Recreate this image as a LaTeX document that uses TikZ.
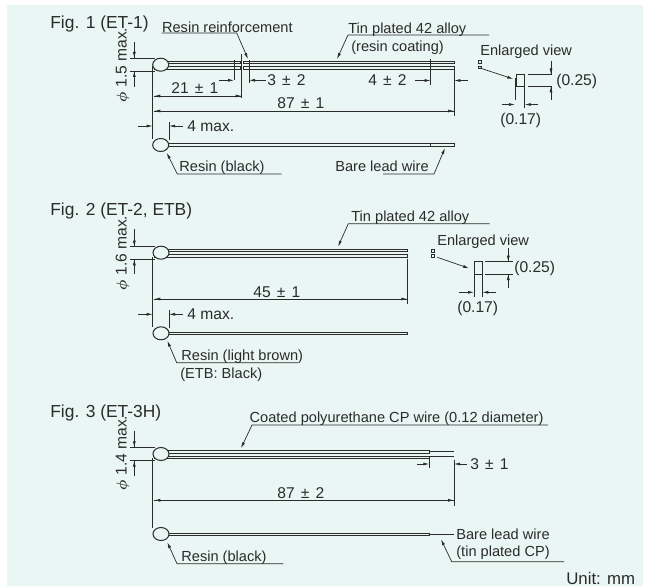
\documentclass[tikz,border=0pt]{standalone}
\usepackage{fontspec}
\setmainfont{Liberation Sans}
\usetikzlibrary{arrows.meta,shapes.geometric}
\definecolor{panel}{HTML}{E9F6F3}
\definecolor{ink}{HTML}{2B2B2B}
\newcommand{\plmi}{\hspace{.12em} ± \hspace{.12em}}

\begin{document}
\begin{tikzpicture}
		[x=1pt,y=-1pt,line width=0.7pt,draw=ink,
		every node/.style={inner sep=0pt,text=ink,font=\fontsize{14.6pt}{16pt}\selectfont,anchor=west,text height=11pt,text depth=0pt},
		figlabel/.style={font=\fontsize{17.4pt}{19pt}\selectfont,text height=12pt},
		unitlabel/.style={font=\fontsize{16.8pt}{18pt}\selectfont},
		dimlabel/.style={font=\fontsize{15.6pt}{17pt}\selectfont},
		phiLabel/.style={font=\fontsize{15.6pt}{17pt}\selectfont,rotate=90,anchor=center},
		bead/.style={ellipse,draw,fill=panel,line width=1pt,minimum width=16pt,minimum height=13pt,text height=,anchor=center},
		wire/.style={draw,fill=panel,line width=0.9pt},
		rule/.style={line width=0.7pt},
		edge/.style={-{Latex[length=6pt,width=3pt]},line width=0.7pt}]
		\useasboundingbox (0,0) rectangle (648,588);
		\fill[panel] (7,5) rectangle (643,586);

		% Fig. 1
		\node[figlabel] (f1) at (50,23) {Fig. 1 (ET-1)};
		\foreach \xa/\xb in {154/240,243/454.3} {
			\draw[wire] (\xa,61) rectangle (\xb,63.5);
			\draw[wire] (\xa,66.5) rectangle (\xb,69);
		}
		\draw[wire] (165,143.5) rectangle (454.3,146);
		\node[bead] (b1) at (160.7,64.7) {};
		\node[bead] (b2) at (160.7,145) {};
		\node[phiLabel] (p1) at (121,65) {{\boldmath$\phi$} 1.5 max.};
		\node (rr) at (161.7,27) {Resin reinforcement};
		\node (tp) at (348,28) {Tin plated 42 alloy};
		\node (rc) at (351,46) {(resin coating)};
		\node (ev) at (480,50) {Enlarged view};
		\node (rb) at (179,166) {Resin (black)};
		\node (bl) at (335,166) {Bare lead wire};
		\node[dimlabel] (d1) at (171,88) {21\plmi 1};
		\node[dimlabel] (d2) at (277,103) {87\plmi 1};
		\node[dimlabel] (d3) at (267,80) {3\plmi 2};
		\node[dimlabel] (d4) at (368,80) {4\plmi 2};
		\node[dimlabel] (d5) at (187,126) {4 max.};
		\node[dimlabel] (d6) at (556,80) {(0.25)};
		\node[dimlabel] (d7) at (500,119) {(0.17)};
		\draw[line width=0.8pt] (516,74.3) rectangle (524.7,86.3);
		\foreach \y in {62,67.5}
			\draw[line width=0.6pt] (478.5,\y-1.3) rectangle (481,\y+1.3);

		% Fig. 2
		\node[figlabel] (f2) at (50,210) {Fig. 2 (ET-2, ETB)};
		\draw[wire] (154,249.3) rectangle (407.3,251.7);
		\draw[wire] (154,254.5) rectangle (407.3,257.5);
		\draw[wire] (165,332) rectangle (407.3,334.5);
		\node[bead] (b3) at (161,252.7) {};
		\node[bead] (b4) at (161,333.3) {};
		\node[phiLabel] (p2) at (121,253) {{\boldmath$\phi$} 1.6 max.};
		\node (tq) at (351,216) {Tin plated 42 alloy};
		\node (ew) at (437,240) {Enlarged view};
		\node (rl) at (181,355) {Resin (light brown)};
		\node (eb) at (180,373) {(ETB: Black)};
		\node[dimlabel] (d8) at (253,292) {45\plmi 1};
		\node[dimlabel] (d9) at (187,314.3) {4 max.};
		\node[dimlabel] (d10) at (514,267) {(0.25)};
		\node[dimlabel] (d11) at (457,306.7) {(0.17)};
		\draw[line width=0.8pt] (474,261.7) rectangle (482.3,274);
		\foreach \y in {251,256}
			\draw[line width=0.6pt] (431.5,\y-1.3) rectangle (434,\y+1.3);

		% Fig. 3
		\node[figlabel] (f3) at (50,411.7) {Fig. 3 (ET-3H)};
		\draw[wire] (154,450.7) rectangle (429.3,453);
		\draw[wire] (154,456) rectangle (429.3,458.3);
		\draw[wire] (165,533) rectangle (429.3,535.3);
		\node[bead] (b5) at (161,454) {};
		\node[bead] (b6) at (161,534) {};
		\node[phiLabel] (p3) at (121,453) {{\boldmath$\phi$} 1.4 max.};
		\node (cp) at (249.3,417) {Coated polyurethane CP wire (0.12 diameter)};
		\node (bw) at (456,534) {Bare lead wire};
		\node (tc) at (456,551) {(tin plated CP)};
		\node (rk) at (181,555.7) {Resin (black)};
		\node[dimlabel] (d12) at (277,493) {87\plmi 2};
		\node[dimlabel] (d13) at (470,464) {3\plmi 1};
		\node[unitlabel] (un) at (566,579) {Unit: mm};

		% extension lines and rules
		\foreach \xa/\ya/\xb/\yb in {
			130/58/155/58,130/71/155/71,134.3/42/134.3/58,134.3/71/134.3/86.7,
			152.7/66/152.7/139,169/122/169/140,454.3/69/454.3/116,430.7/59/430.7/85,
			430.7/143/430.7/147,234/60/234/80,249/60/249/83,241.7/54/241.7/98,
			515/78/515/100,524.3/86/524.3/108,528/74.3/552/74.3,528/86.3/552/86.3,
			551/60.7/551/74,551/86/551/100,
			130/246.7/155/246.7,130/259.3/155/259.3,134.3/229.3/134.3/246.7,134.3/259.3/134.3/274.3,
			152.7/257/152.7/327.3,169/310/169/328,407.3/259/407.3/304,
			474/274/474/296.7,482.3/274/482.3/296.7,485/261.7/512.7/261.7,485/274/512.7/274,
			508.3/248.3/508.3/261.7,508.3/274/508.3/288.3,
			130/447.3/155/447.3,130/460.7/155/460.7,134.3/431/134.3/447.3,134.3/460.7/134.3/476,
			152.7/458/152.7/528.3,454/460/454/505.7,429.3/458/429.3/468.3,
			429.3/451.5/454/451.5,429.3/456.8/454/456.8,429.3/534.2/454/534.2}
			\draw[rule] (\xa,\ya) -- (\xb,\yb);

		% dimension arrows
		\foreach \xa/\ya/\xb/\yb in {
			134.3/48/134.3/58,134.3/81/134.3/71,219/80.3/234/80.3,266/80.3/249/80.3,
			241.7/96/154.3/96,154.3/96/241.7/96,454/111/154.3/111,154.3/111/454/111,
			138/126/152.7/126,183/126/169/126,415/80.5/430.7/80.5,468/80.5/454.3/80.5,
			501.7/104.5/515/104.5,538/104.5/524.7/104.5,551/64/551/74.3,551/96/551/86.3,
			134.3/236/134.3/246.7,134.3/269/134.3/259.3,407.3/299/154.3/299,154.3/299/407.3/299,
			138/314.3/152.7/314.3,183/314.3/169/314.3,459.3/292.3/474/292.3,495.7/292.3/482.3/292.3,
			508.3/252/508.3/261.7,508.3/284/508.3/274,
			134.3/437/134.3/447.3,134.3/470/134.3/460.7,454/500.3/154.3/500.3,154.3/500.3/454/500.3,
			417.3/464/429.3/464,466.7/464/454/464,
			480/68/513.3/79,437.3/257.3/469/268.3}
			\draw[edge] (\xa,\ya) -- (\xb,\yb);

		% leaders
		\foreach \xa/\ya/\xb/\yb/\xc/\yc in {
			161.7/33/236.7/33/248/59,489/35/348/35/337/59,281.7/174/177.3/174/166.7/152.7,
			383/174/434/174/445/148,489.7/223.7/348.3/223.7/338/246.7,
			298/362.7/176.7/362.7/167.3/340.7,548/425/252/425/241/448.3,
			564/561.7/451.7/561.7/441/539.3,283.3/563.7/177/563.7/167.3/542.3}
			\draw[edge] (\xa,\ya) -- (\xb,\yb) -- (\xc,\yc);
\end{tikzpicture}
\end{document}
